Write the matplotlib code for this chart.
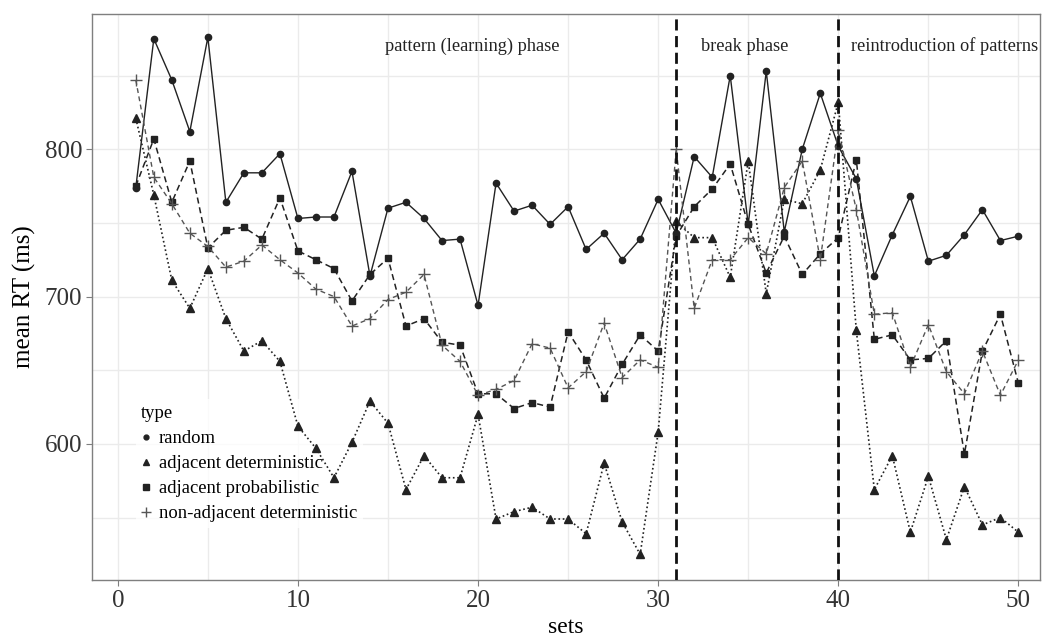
import matplotlib
matplotlib.use("Agg")
import matplotlib.pyplot as plt
from matplotlib.lines import Line2D

sets = list(range(1, 51))
random_rt = [774, 875, 847, 812, 876, 764, 784, 784, 797, 753, 754, 754, 785, 714, 760,
             764, 753, 738, 739, 694, 777, 758, 762, 749, 761, 732, 743, 725, 739, 766,
             743, 795, 781, 850, 749, 853, 744, 800, 838, 802, 780, 714, 742, 768, 724,
             728, 742, 759, 738, 741]
adj_det = [821, 769, 711, 692, 719, 685, 663, 670, 656, 612, 597, 577, 601, 629, 614,
           569, 592, 577, 577, 620, 549, 554, 557, 549, 549, 539, 587, 547, 525, 608,
           751, 740, 740, 713, 792, 702, 766, 763, 786, 832, 677, 569, 592, 540, 578,
           535, 571, 545, 550, 540]
adj_prob = [775, 807, 764, 792, 733, 745, 747, 739, 767, 731, 725, 719, 697, 715, 726,
            680, 685, 669, 667, 634, 634, 624, 628, 625, 676, 657, 631, 654, 674, 663,
            741, 761, 773, 790, 749, 716, 741, 715, 729, 740, 793, 671, 674, 657, 658,
            670, 593, 663, 688, 641]
non_adj = [847, 781, 763, 743, 734, 720, 724, 735, 725, 716, 705, 700, 680, 685, 698,
           703, 715, 667, 656, 633, 637, 643, 668, 665, 638, 649, 682, 645, 657, 652,
           800, 692, 725, 725, 740, 729, 774, 792, 725, 813, 759, 688, 689, 652, 681,
           649, 634, 663, 633, 657]
type_labels = ["random", "adjacent deterministic", "adjacent probabilistic",
               "non-adjacent deterministic"]
phase_breaks = [31, 40]
phase_labels = ["pattern (learning) phase", "break phase", "reintroduction of patterns"]
phase_label_x = [19.7, 34.8, 45.9]

plt.rcParams['font.family'] = ['Liberation Serif', 'DejaVu Serif']

fig = plt.figure(figsize=(10.53, 6.37), dpi=100)
ax = fig.add_axes([0.0874, 0.0895, 0.9003, 0.8885])

ax.set_xlim(-1.43, 51.2)
ax.set_ylim(507.6, 891.8)
ax.set_xticks([0, 10, 20, 30, 40, 50])
ax.set_xticks([5, 15, 25, 35, 45], minor=True)
ax.set_yticks([600, 700, 800])
ax.set_yticks([550, 650, 750, 850], minor=True)
ax.grid(True, which='both', color='#ebebeb', lw=1.0)
ax.set_axisbelow(True)
for s in ax.spines.values():
    s.set_color('#7f7f7f')
    s.set_linewidth(1.0)
ax.tick_params(which='major', direction='out', color='#7f7f7f', length=4,
               labelsize=18, labelcolor='#333333', pad=3)
ax.tick_params(which='minor', length=0)

series = [
    (random_rt, dict(color='#222222', ls='-', lw=1.0, marker='o', ms=4.5)),
    (adj_det, dict(color='#222222', ls=(0, (1, 1.6)), lw=1.2, marker='^', ms=5.5)),
    (adj_prob, dict(color='#222222', ls=(0, (4, 2.5)), lw=1.1, marker='s', ms=4.5)),
    (non_adj, dict(color='#555555', ls=(0, (3.5, 2.5)), lw=1.0, marker='+', ms=8, mew=1.0)),
]
for vals, st in series:
    ax.plot(sets, vals, zorder=3, **st)

for xb in phase_breaks:
    ax.axvline(xb, color='#111111', lw=2.0, ls=(0, (4, 2)), zorder=4)

for lx, lab in zip(phase_label_x, phase_labels):
    ax.text(lx, 870, lab, ha='center', va='center', fontsize=13.2, color='#222222')

ax.set_xlabel('sets', fontsize=17, labelpad=4)
ax.set_ylabel('mean RT (ms)', fontsize=18, labelpad=6)

handles = []
for (vals, st), lab in zip(series, type_labels):
    ms = {'o': 3.5, '^': 4.5, 's': 4, '+': 7}[st['marker']]
    handles.append(Line2D([], [], ls='none', marker=st['marker'], color=st['color'],
                          ms=ms, mew=1.0))
leg = ax.legend(handles, type_labels, title='type', loc='upper left',
                bbox_to_anchor=(0.046, 0.319), frameon=True, fontsize=13.4,
                title_fontsize=13.4, handlelength=0.5, handletextpad=0.45,
                labelspacing=0.43, borderpad=0.3, borderaxespad=0)
leg._legend_box.align = 'left'
leg.get_frame().set_facecolor('white')
leg.get_frame().set_edgecolor('none')
leg.set_zorder(2)

fig.savefig('out.png', dpi=100)
